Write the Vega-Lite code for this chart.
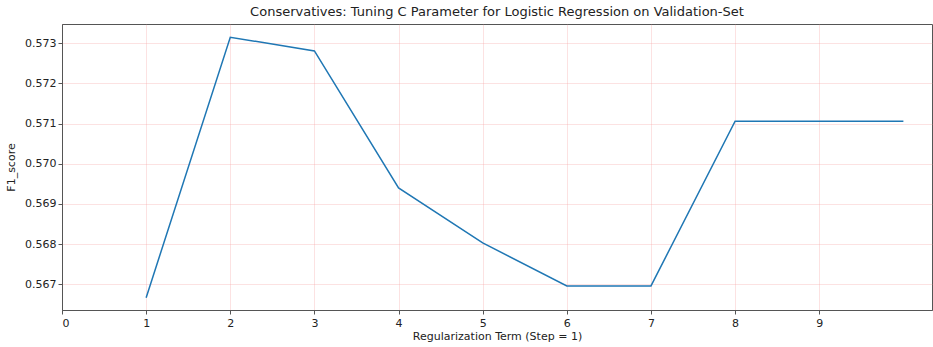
{
  "$schema": "https://vega.github.io/schema/vega-lite/v6.json",
  "autosize": "none",
  "width": 870,
  "height": 286,
  "padding": {"left": 62, "top": 24, "right": 1, "bottom": 37},
  "background": "white",
  "title": {"text": "Conservatives: Tuning C Parameter for Logistic Regression on Validation-Set", "font": "DejaVu Sans", "fontSize": 13, "fontWeight": "normal", "color": "#222", "offset": 5},
  "config": {
    "view": {"stroke": "#555", "strokeWidth": 1},
    "axis": {"labelFont": "DejaVu Sans", "titleFont": "DejaVu Sans", "labelFontSize": 11, "titleFontSize": 11, "titleFontWeight": "normal", "labelColor": "#222", "titleColor": "#222", "domainColor": "#555", "tickColor": "#555", "gridColor": "#f4a0a0", "gridOpacity": 0.3, "gridWidth": 1}
  },
  "data": {"values": [
    {"step": 1, "f1": 0.566667},
    {"step": 2, "f1": 0.57315},
    {"step": 3, "f1": 0.57281},
    {"step": 4, "f1": 0.56940},
    {"step": 5, "f1": 0.56803},
    {"step": 6, "f1": 0.56696},
    {"step": 7, "f1": 0.56696},
    {"step": 8, "f1": 0.57106},
    {"step": 9, "f1": 0.57106},
    {"step": 10, "f1": 0.57106}
  ]},
  "mark": {"type": "line", "color": "#1f77b4", "strokeWidth": 1.5, "clip": true},
  "encoding": {
    "x": {"field": "step", "type": "quantitative", "scale": {"domain": [0, 10.34], "nice": false, "zero": false}, "axis": {"values": [0,1,2,3,4,5,6,7,8,9], "title": "Regularization Term (Step = 1)", "titlePadding": 2, "labelPadding": 3, "tickSize": 4}},
    "y": {"field": "f1", "type": "quantitative", "scale": {"domain": [0.56636, 0.57348], "nice": false, "zero": false}, "axis": {"values": [0.567, 0.568, 0.569, 0.57, 0.571, 0.572, 0.573], "format": ".3f", "title": "F1_score", "titlePadding": 8, "tickSize": 4}}
  }
}
